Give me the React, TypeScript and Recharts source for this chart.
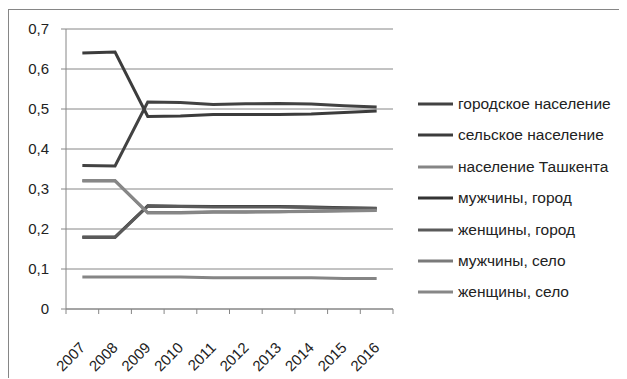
import React from 'react';
import { LineChart, Line, XAxis, YAxis, CartesianGrid } from 'recharts';

const years = ['2007', '2008', '2009', '2010', '2011', '2012', '2013', '2014', '2015', '2016'];
const urban = [0.359, 0.3575, 0.5175, 0.5165, 0.5115, 0.513, 0.514, 0.5125, 0.508, 0.505];
const rural = [0.64, 0.6425, 0.4815, 0.4825, 0.4865, 0.486, 0.486, 0.4875, 0.4915, 0.495];
const tashkent = [0.08, 0.08, 0.08, 0.08, 0.078, 0.078, 0.078, 0.078, 0.076, 0.076];
const menCity = [0.18, 0.18, 0.258, 0.257, 0.256, 0.256, 0.256, 0.255, 0.253, 0.252];
const womenCity = [0.179, 0.179, 0.257, 0.256, 0.255, 0.255, 0.255, 0.254, 0.252, 0.251];
const menRural = [0.32, 0.32, 0.241, 0.241, 0.243, 0.243, 0.243, 0.245, 0.246, 0.247];
const womenRural = [0.321, 0.321, 0.24, 0.24, 0.242, 0.242, 0.243, 0.244, 0.245, 0.246];
const yTicks = [0, 0.1, 0.2, 0.3, 0.4, 0.5, 0.6, 0.7];

const series = [
  { key: 'urban', name: 'городское население', values: urban, color: '#424242' },
  { key: 'rural', name: 'сельское население', values: rural, color: '#3c3c3c' },
  { key: 'tashkent', name: 'население Ташкента', values: tashkent, color: '#858585' },
  { key: 'menCity', name: 'мужчины, город', values: menCity, color: '#333333' },
  { key: 'womenCity', name: 'женщины, город', values: womenCity, color: '#5a5a5a' },
  { key: 'menRural', name: 'мужчины, село', values: menRural, color: '#7a7a7a' },
  { key: 'womenRural', name: 'женщины, село', values: womenRural, color: '#878787' },
];

const data = years.map((y, i) => {
  const row: Record<string, any> = { year: y };
  series.forEach((s) => {
    row[s.key] = s.values[i];
  });
  return row;
});

const FONT = '"Liberation Sans", Arial, sans-serif';
const GRID = '#868686';
const CHART_W = 618;
const CHART_H = 369;
const Y_W = 57;
const RIGHT = 234;
const HALF_BAND = (CHART_W - Y_W - RIGHT) / years.length / 2;

const XTick = (props: any) => {
  const { x, y, payload, index } = props;
  const px = x;
  const py = y + 36;
  return (
    <g>
      <line x1={x - HALF_BAND} x2={x - HALF_BAND} y1={y} y2={y + 5} stroke={GRID} />
      {index === years.length - 1 && (
        <line x1={x + HALF_BAND} x2={x + HALF_BAND} y1={y} y2={y + 5} stroke={GRID} />
      )}
      <text
        x={px}
        y={py}
        dy="0.35em"
        textAnchor="end"
        transform={`rotate(-45, ${px}, ${py})`}
        fill="#222"
        fontSize={15}
        fontFamily={FONT}
      >
        {payload.value}
      </text>
    </g>
  );
};

const fmt = (v: number) => (v === 0 ? '0' : v.toFixed(1).replace('.', ','));

export default function App() {
  return (
    <div
      style={{
        position: 'relative',
        top: 1,
        width: CHART_W,
        height: CHART_H,
        borderTop: `1px solid ${GRID}`,
        borderLeft: `1px solid ${GRID}`,
        fontFamily: FONT,
      }}
    >
      <LineChart
        width={CHART_W}
        height={CHART_H}
        data={data}
        margin={{ top: 19, right: RIGHT, left: 0, bottom: 0 }}
      >
        <CartesianGrid vertical={false} stroke={GRID} />
        <XAxis
          dataKey="year"
          scale="band"
          interval={0}
          height={70}
          tickLine={false}
          tickSize={0}
          tickMargin={0}
          axisLine={{ stroke: GRID }}
          tick={<XTick />}
        />
        <YAxis
          width={Y_W}
          domain={[0, 0.7]}
          ticks={yTicks}
          tickFormatter={fmt}
          tickSize={5}
          tickMargin={12}
          axisLine={{ stroke: GRID }}
          tickLine={{ stroke: GRID }}
          tick={{ fill: '#222', fontSize: 15, fontFamily: FONT }}
        />
        {series.map((s) => (
          <Line
            key={s.key}
            dataKey={s.key}
            name={s.name}
            stroke={s.color}
            strokeWidth={3}
            dot={false}
            activeDot={false}
            isAnimationActive={false}
            type="linear"
          />
        ))}
      </LineChart>
      <div style={{ position: 'absolute', left: 409, top: 0 }}>
        {series.map((s, i) => (
          <div
            key={s.key}
            style={{
              position: 'absolute',
              top: 94 + i * 31.4 - 10,
              left: 0,
              height: 20,
              display: 'flex',
              alignItems: 'center',
              whiteSpace: 'nowrap',
            }}
          >
            <svg width={35} height={4} style={{ display: 'block' }}>
              <line x1={0} x2={35} y1={2} y2={2} stroke={s.color} strokeWidth={3} />
            </svg>
            <span style={{ marginLeft: 5, fontSize: 15.5, color: '#222' }}>{s.name}</span>
          </div>
        ))}
      </div>
    </div>
  );
}
